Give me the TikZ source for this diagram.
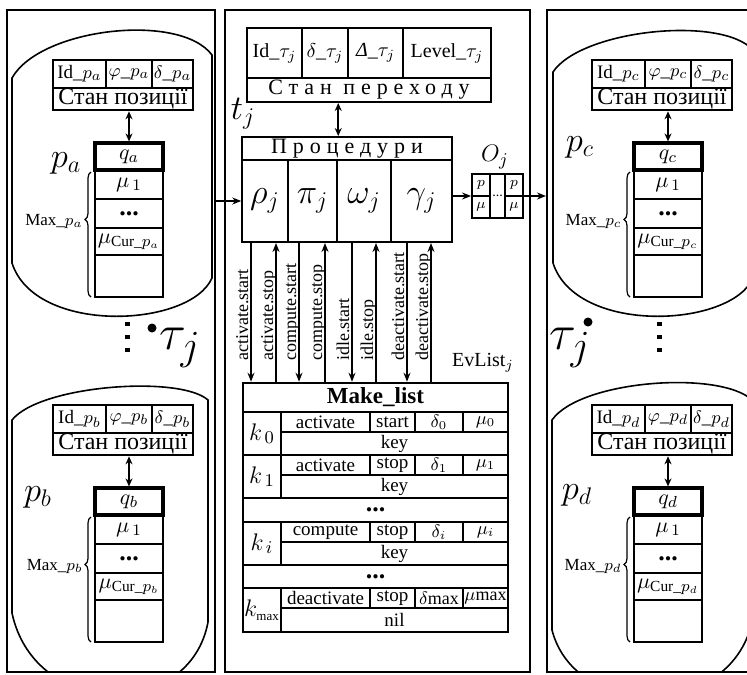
\documentclass[tikz,border=0pt]{standalone}
\usepackage{amsmath}
\usepackage{fontspec}
\setmainfont{Liberation Serif}
\usetikzlibrary{arrows.meta, positioning, calc, decorations.pathreplacing}

\begin{document}
\begin{tikzpicture}[
    x=0.5pt, y=-0.5pt,
    cellat/.style args={#1/#2/#3/#4}{at={({(#1+#3)/2},{(#2+#4)/2})},
      minimum width={(#3-#1)*0.5pt}, minimum height={(#4-#2)*0.5pt}},
    panel/.style={draw, line width=1pt, inner sep=0pt},
    blob/.style={draw, line width=0.8pt},
    cellbox/.style={draw, line width=0.75pt, inner sep=0pt, font=\fontsize{9.5}{10}\selectfont},
    tbl/.style={draw, line width=1.3pt, inner sep=0pt},
    qbox/.style={draw, line width=1.6pt, inner sep=0pt, font=\fontsize{11}{12}\selectfont},
    cyrtxt/.style={font=\fontsize{12}{13}\selectfont},
    spaced/.style={font=\fontsize{11}{12}\selectfont\addfontfeatures{LetterSpace=27}},
    greek/.style={font=\fontsize{18}{18}\selectfont},
    evt/.style={inner sep=0pt, rotate=90, anchor=base west, font=\fontsize{9}{10}\selectfont},
    arrow/.style={-{Stealth[length=4.5pt, width=3.5pt]}, line width=0.7pt},
    dblarrow/.style={{Stealth[length=4pt, width=3.5pt]}-{Stealth[length=4pt, width=3.5pt]}, line width=1pt},
    bigdots/.style={font=\bfseries\fontsize{13}{13}\selectfont},
    blackdot/.style={circle, fill, inner sep=0pt, minimum size=4.5pt},
    brace/.style={decorate, decoration={brace, amplitude=3pt, aspect=0.62}, line width=0.6pt}
  ]

  \useasboundingbox (0,0) rectangle (747,674);
  \clip (0,0) rectangle (747,674);

  % ============ PANELS ============
  \node[panel, cellat=7/10/215/672] (lpanel) {};
  \node[panel, cellat=225/10/530/672] (mpanel) {};
  \node[panel, cellat=547/10/770/672] (rpanel) {};

  % places (left)
  \begin{scope}
    \clip (7,10) rectangle (215,672);
    \draw[blob] (12,78) .. controls (40,28) and (180,12) .. (212,55) -- (212,278)
      .. controls (190,328) and (35,335) .. (12,263) -- cycle;
    \draw[blob] (12,420) .. controls (40,385) and (180,375) .. (208,400) -- (208,622)
      .. controls (190,720) and (35,720) .. (12,613) -- cycle;
  \end{scope}
  % places (right)
  \begin{scope}
    \clip (547,10) rectangle (770,672);
    \draw[blob] (553,72) .. controls (581,30) and (721,15) .. (753,50) -- (753,278)
      .. controls (731,328) and (576,335) .. (553,263) -- cycle;
    \draw[blob] (552,420) .. controls (580,380) and (720,370) .. (752,400) -- (752,622)
      .. controls (730,720) and (575,720) .. (552,630) -- cycle;
  \end{scope}

  % ============ PLACES p_a .. p_d ============
  \foreach \n/\ox/\oy/\px/\py in {a/0/0/66/163, b/0/345/38/152, c/539/0/41/147, d/539/345/38/150}{
    \begin{scope}[shift={(\ox,\oy)}]
      % state of the place
      \node[cellbox, cellat=53/60/106/88] (id\n) {Id\_$p_\n$};
      \node[cellbox, cellat=106/60/152/88] (fi\n) {$\varphi$\_$p_\n$};
      \node[cellbox, cellat=152/60/193/88] (de\n) {$\delta$\_$p_\n$};
      \node[cellbox, cyrtxt, cellat=53/88/193/110] (st\n) {Стан позиції};
      \node[tbl, cellat=53/60/193/110] (hd\n) {};

      % tokens
      \node[cellbox, cellat=95/170/163/199, font=\fontsize{11}{12}\selectfont] (mf\n) {$\mu_{\,1}$};
      \node[cellbox, bigdots, cellat=95/199/163/228] (md\n) {...};
      \node[cellbox, cellat=95/228/163/255, font=\fontsize{11}{12}\selectfont] (mc\n) {$\mu_{\text{Cur\_}p_\n}$};
      \node[cellbox, cellat=95/255/163/297] (me\n) {};
      \node[qbox, cellat=95/143/163/170] (q\n) {$q_\n$};

      \draw[dblarrow] (q\n.north) -- (q\n.north |- hd\n.south);

      \draw[brace] (91,297) -- (91,172);
      \node[anchor=east, inner sep=0pt, font=\fontsize{8.5}{9}\selectfont] (mx\n) at (83,221) {Max\_$p_\n$};
      \node[font=\fontsize{18}{18}\selectfont] (lb\n) at (\px,\py) {$p_\n$};
    \end{scope}
  }

  % ============ TRANSITION t_j ============
  \node[cellbox, cellat=247/28/302/78, font=\fontsize{10}{11}\selectfont] (trid) {Id\_$\tau_j$};
  \node[cellbox, cellat=302/28/348/78, font=\fontsize{10}{11}\selectfont] (trde) {$\delta$\_$\tau_j$};
  \node[cellbox, cellat=348/28/403/78, font=\fontsize{10}{11}\selectfont] (trDe) {\textit{Δ}\_$\tau_j$};
  \node[cellbox, cellat=403/28/491/78, font=\fontsize{10}{11}\selectfont] (trlv) {Level\_$\tau_j$};
  \node[cellbox, spaced, cellat=247/78/491/102] (trst) {Стан переходу};
  \node[tbl, line width=1pt, cellat=247/28/491/102] (tr) {};

  \node[font=\fontsize{18}{18}\selectfont] (tj) at (243,114) {$t_j$};

  % procedures
  \node[cellbox, spaced, cellat=242/137/452/160] (prochd) {Процедури};
  \node[cellbox, greek, cellat=242/160/288/242] (rho) {$\rho_j$};
  \node[cellbox, greek, cellat=288/160/337/242] (pi) {$\pi_j$};
  \node[cellbox, greek, cellat=337/160/391/242] (omega) {$\omega_j$};
  \node[cellbox, greek, cellat=391/160/452/242] (gamma) {$\gamma_j$};
  \node[tbl, line width=1pt, cellat=242/137/452/242] (procs) {};

  \coordinate (trout) at ($(tr.south west)!0.375!(tr.south east)$);
  \draw[dblarrow] (trout) -- (trout |- procs.north);

  % output O_j
  \node[cellbox, cellat=472/174/490/196, font=\fontsize{7}{7}\selectfont] (op1) {$p$};
  \node[cellbox, cellat=472/196/490/218, font=\fontsize{7}{7}\selectfont] (om1) {$\mu$};
  \node[cellbox, cellat=490/174/505/218, font=\fontsize{7}{7}\selectfont] (odots) {...};
  \node[cellbox, cellat=505/174/523/196, font=\fontsize{7}{7}\selectfont] (op2) {$p$};
  \node[cellbox, cellat=505/196/523/218, font=\fontsize{7}{7}\selectfont] (om2) {$\mu$};
  \node[draw, line width=0.9pt, inner sep=0pt, cellat=472/174/523/218] (oj) {};
  \node[font=\fontsize{13}{13}\selectfont] (ojlbl) at (495,157) {$O_j$};

  \draw[arrow] (lpanel.east |- rho) -- (rho.west);
  \draw[arrow] (procs.east |- oj.west) -- (oj.west);
  \draw[arrow] (oj.east) -- (oj.east -| rpanel.west);

  % ============ EVENT LIST ============
  \node[cellbox, cellat=243/383/508/412, font=\bfseries\fontsize{11.5}{12}\selectfont] (mlhd) {Make\_list};
  \foreach \r/\ty/\ym/\yb/\kk/\ev/\se/\dl/\mm/\key in {
      0/412/432/455/k_{\,0}/activate/start/\delta_0/\mu_0/key,
      1/455/475/498/k_{\,1}/activate/stop/\delta_1/\mu_1/key,
      i/522/542/565/k_{\,i}/compute/stop/\delta_i/\mu_i/key,
      max/588/608/632/k_{\scriptscriptstyle\max}/deactivate/stop/\delta\mathrm{max}/\mu\mathrm{max}/nil}{
    \node[cellbox, cellat=243/\ty/281/\yb, font=\fontsize{13}{13}\selectfont] (k\r) {$\kk$};
    \node[cellbox, cellat=281/\ty/370/\ym] (ev\r) {\ev};
    \node[cellbox, cellat=370/\ty/415/\ym] (se\r) {\se};
    \node[cellbox, cellat=415/\ty/463/\ym, font=\fontsize{9}{10}\selectfont] (dl\r) {$\dl$};
    \node[cellbox, cellat=463/\ty/508/\ym, font=\fontsize{9}{10}\selectfont] (mu\r) {$\mm$};
    \node[cellbox, cellat=281/\ym/508/\yb] (key\r) {\key};
    \node[tbl, cellat=243/\ty/508/\yb] (grp\r) {};
  }
  \node[cellbox, bigdots, cellat=243/498/508/522] (gap1) {...};
  \node[cellbox, bigdots, cellat=243/565/508/588] (gap2) {...};
  \node[tbl, cellat=243/383/508/632] (ml) {};

  \node[font=\fontsize{10}{11}\selectfont] (evlist) at (483,363) {EvList$_j$};

  % events between procedures and list
  \foreach \x/\ev in {251/activate.start, 299/compute.start, 352/idle.start, 407/deactivate.start}{
    \draw[arrow] (procs.south -| \x,0) -- (ml.north -| \x,0);
    \node[evt] (ev-\x) at (\x-3,361) {\ev};
  }
  \foreach \x/\ev in {276/activate.stop, 325/compute.stop, 376/idle.stop, 431/deactivate.stop}{
    \draw[arrow] (ml.north -| \x,0) -- (procs.south -| \x,0);
    \node[evt] (ev-\x) at (\x-3,361) {\ev};
  }

  % ============ OTHER TRANSITIONS ============
  \foreach \yy in {326,339,352} \fill (125,\yy) rectangle ++(4.5,-4.5);
  \node[blackdot] (dotl) at (152,328) {};
  \node[font=\fontsize{28}{28}\selectfont] (taul) at (180,348) {$\tau_j$};

  \foreach \yy in {326,339,352} \fill (657,\yy) rectangle ++(4.5,-4.5);
  \node[blackdot] (dotr) at (588,322) {};
  \node[font=\fontsize{28}{28}\selectfont] (taur) at (570,348) {$\tau_j$};

\end{tikzpicture}
\end{document}
